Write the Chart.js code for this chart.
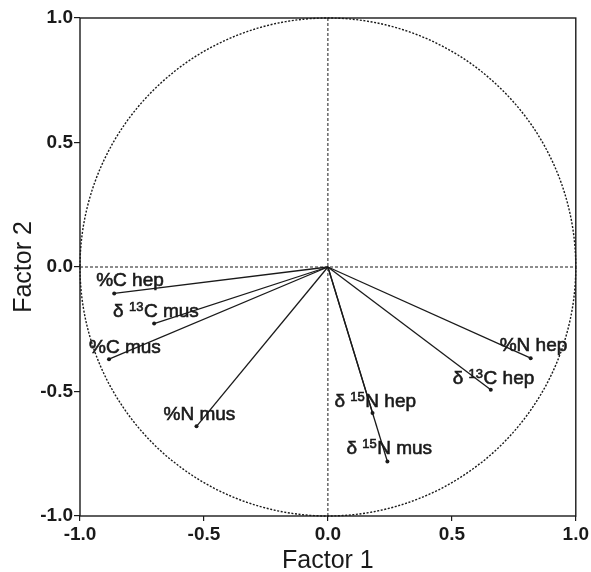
<!DOCTYPE html>
<html>
<head>
<meta charset="utf-8">
<script src="https://cdn.jsdelivr.net/npm/chart.js@4"></script>
<style>
    html, body { margin: 0; padding: 0; background: #fff; }
    #wrap { width: 591px; height: 572px; }
</style>
</head>
<body>
<div id="wrap"><canvas id="myChart" width="591" height="572"></canvas></div>
<script>
// loadings (Factor 1, Factor 2); {..} marks a superscript
const names = ['%C hep', 'δ {13}C mus', '%C mus', '%N mus', '%N hep', 'δ {13}C hep', 'δ {15}N hep', 'δ {15}N mus'];
const factor1 = [-0.862, -0.701, -0.883, -0.530, 0.818, 0.657, 0.180, 0.240];
const factor2 = [-0.106, -0.227, -0.370, -0.640, -0.366, -0.493, -0.586, -0.781];
const tickValues = [-1.0, -0.5, 0.0, 0.5, 1.0];

// where each label sits relative to its arrow tip (px, text left / baseline)
const labelOffsets = [[-18, -7], [-41, -7], [-20, -6], [-33, -6], [-31, -7], [-38, -6], [-38, -6], [-41, -7]];

const FONT = '"Liberation Sans", Arial, sans-serif';
const INK = '#1a1a1a';

// unit circle, dashed zero lines and the frame, drawn under the arrows
const guides = {
    id: 'guides',
    beforeDatasetsDraw(chart) {
        const c = chart.ctx;
        const xs = chart.scales.x, ys = chart.scales.y;
        const a = chart.chartArea;
        const cx = xs.getPixelForValue(0), cy = ys.getPixelForValue(0);
        const rx = xs.getPixelForValue(1) - cx, ry = cy - ys.getPixelForValue(1);

        c.save();
        c.strokeStyle = INK;

        // zero lines
        c.lineWidth = 1;
        c.setLineDash([3, 2]);
        c.beginPath();
        c.moveTo(a.left, cy); c.lineTo(a.right, cy);
        c.moveTo(cx, a.top); c.lineTo(cx, a.bottom);
        c.stroke();

        // circle
        c.lineWidth = 1.4;
        c.setLineDash([2, 1.6]);
        c.beginPath();
        c.ellipse(cx, cy, rx, ry, 0, 0, Math.PI * 2);
        c.stroke();

        // frame
        c.setLineDash([]);
        c.lineWidth = 1.4;
        c.strokeRect(a.left, a.top, a.right - a.left, a.bottom - a.top);
        c.restore();
    }
};

const varLabels = {
    id: 'varLabels',
    afterDatasetsDraw(chart) {
        const c = chart.ctx;
        const xs = chart.scales.x, ys = chart.scales.y;
        c.save();
        c.fillStyle = INK;
        c.strokeStyle = INK;
        c.lineWidth = 0.6;
        c.textBaseline = 'alphabetic';
        c.textAlign = 'left';
        for (let i = 0; i < names.length; i++) {
            let x = xs.getPixelForValue(factor1[i]) + labelOffsets[i][0];
            const y = ys.getPixelForValue(factor2[i]) + labelOffsets[i][1];
            const parts = names[i].split(/[{}]/);
            parts.forEach((p, k) => {
                if (!p) return;
                const sup = k % 2 === 1;
                c.font = (sup ? '13px ' : '19px ') + FONT;
                c.fillText(p, x, sup ? y - 6 : y);
                c.strokeText(p, x, sup ? y - 6 : y);
                x += c.measureText(p).width + (sup ? 0.5 : 0);
            });
        }
        c.restore();
    }
};

graph();

function graph() {
    const ctx = document.getElementById('myChart');

    let datasets = [];
    for (let i = 0; i < names.length; i++) {
        datasets.push({
            label: names[i],
            data: [{x: 0, y: 0}, {x: factor1[i], y: factor2[i]}],
            showLine: true,
            borderColor: INK,
            borderWidth: 1.3,
            backgroundColor: INK,
            pointRadius: [0, 2],
            pointBorderWidth: 0,
        });
    }

    new Chart(ctx, {
        type: 'scatter',
        data: {datasets: datasets},
        options: {
            responsive: false,
            animation: false,
            layout: {
                padding: {left: 0, right: 14, top: 18, bottom: 0}
            },
            plugins: {
                legend: {display: false},
                tooltip: {enabled: false}
            },
            scales: {
                x: {
                    min: -1,
                    max: 1,
                    afterBuildTicks: (scale) => {
                        scale.ticks = tickValues.map(v => ({value: v}));
                    },
                    afterFit: (scale) => {
                        scale.height = 56;
                    },
                    grid: {
                        drawOnChartArea: false,
                        tickLength: 5,
                        color: INK,
                        lineWidth: 1.2
                    },
                    border: {display: false},
                    ticks: {
                        padding: 2,
                        color: INK,
                        font: {family: FONT, size: 19, weight: 'bold'},
                        callback: v => v.toFixed(1)
                    },
                    title: {
                        display: true,
                        text: 'Factor 1',
                        color: INK,
                        padding: {top: 0, bottom: -4},
                        font: {family: FONT, size: 25}
                    }
                },
                y: {
                    min: -1,
                    max: 1,
                    afterBuildTicks: (scale) => {
                        scale.ticks = tickValues.map(v => ({value: v}));
                    },
                    afterFit: (scale) => {
                        scale.width = 80;
                    },
                    grid: {
                        drawOnChartArea: false,
                        tickLength: 6,
                        color: INK,
                        lineWidth: 1.2
                    },
                    border: {display: false},
                    ticks: {
                        padding: 1,
                        color: INK,
                        font: {family: FONT, size: 19, weight: 'bold'},
                        callback: v => v.toFixed(1)
                    },
                    title: {
                        display: true,
                        text: 'Factor 2',
                        color: INK,
                        padding: {top: 9, bottom: 0},
                        font: {family: FONT, size: 25}
                    }
                }
            }
        },
        plugins: [guides, varLabels]
    });
}
</script>
</body>
</html>
